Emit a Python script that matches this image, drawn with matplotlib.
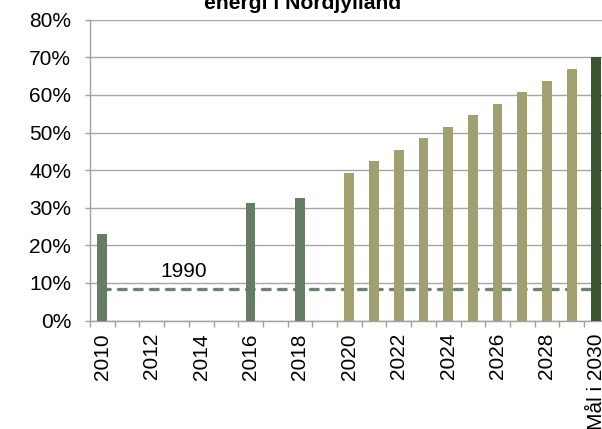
import matplotlib
matplotlib.use("Agg")
import matplotlib.pyplot as plt
import numpy as np
from matplotlib.ticker import FuncFormatter, FixedLocator

plt.rcParams['font.family'] = ['Liberation Sans', 'DejaVu Sans']

categories = [str(y) for y in range(2010, 2030)] + ["Mål i 2030"]
# andel vedvarende energi (%), nan = ingen data
historic = [23.0, np.nan, np.nan, np.nan, np.nan, np.nan, 31.2, np.nan, 32.6, np.nan]
projection = [39.3, 42.3, 45.4, 48.5, 51.5, 54.6, 57.7, 60.7, 63.8, 66.8]
target = [70.0]
level_1990 = 8.45

values = historic + projection + target
groups = ["hist"] * len(historic) + ["proj"] * len(projection) + ["goal"] * len(target)
colors = {"hist": "#647d64", "proj": "#a0a070", "goal": "#3a5530"}

fig = plt.figure(figsize=(6.02, 4.29), dpi=100)
ax = fig.add_axes([90 / 602, 1 - 320.5 / 429, 518.7 / 602, 300.8 / 429])

x = np.arange(len(categories))
vals = np.array(values) / 100
ax.bar(x, vals, width=0.4, color=[colors[g] for g in groups], zorder=3)

ax.plot(x, [level_1990 / 100] * len(x), color="#6b836b", lw=2.4,
        dashes=(2.3, 2.5), dash_capstyle="round", zorder=2)
ax.text(3.3, 0.116, "1990", ha="center", va="baseline", fontsize=15)

ax.set_xlim(-0.5, len(categories) - 0.5)
ax.set_ylim(0, 0.8)
ax.set_yticks(np.arange(0, 0.81, 0.1))
ax.yaxis.set_major_formatter(FuncFormatter(lambda v, p: f"{v * 100:.0f}%"))
ax.grid(axis="y", color="#a6a6a6", lw=1.0, zorder=0)

ax.set_xticks(x[::2])
ax.set_xticklabels(categories[::2], rotation=90)
ax.xaxis.set_minor_locator(FixedLocator(np.arange(-0.5, len(categories), 1.0)))
ax.tick_params(axis="x", which="major", length=0, pad=9, labelsize=15)
ax.tick_params(axis="x", which="minor", length=4.5, color="#a0a0a0", width=1)
ax.tick_params(axis="y", length=3.6, color="#a0a0a0", width=1, pad=10, labelsize=15)

for s in ["top", "right"]:
    ax.spines[s].set_visible(False)
for s in ["left", "bottom"]:
    ax.spines[s].set_color("#a0a0a0")
    ax.spines[s].set_linewidth(1.0)

fig.text(303 / 602, 1 - 9 / 429, "energi i Nordjylland", ha="center",
         va="baseline", fontsize=15.2, fontweight="bold")

fig.savefig("out.png", dpi=100)
